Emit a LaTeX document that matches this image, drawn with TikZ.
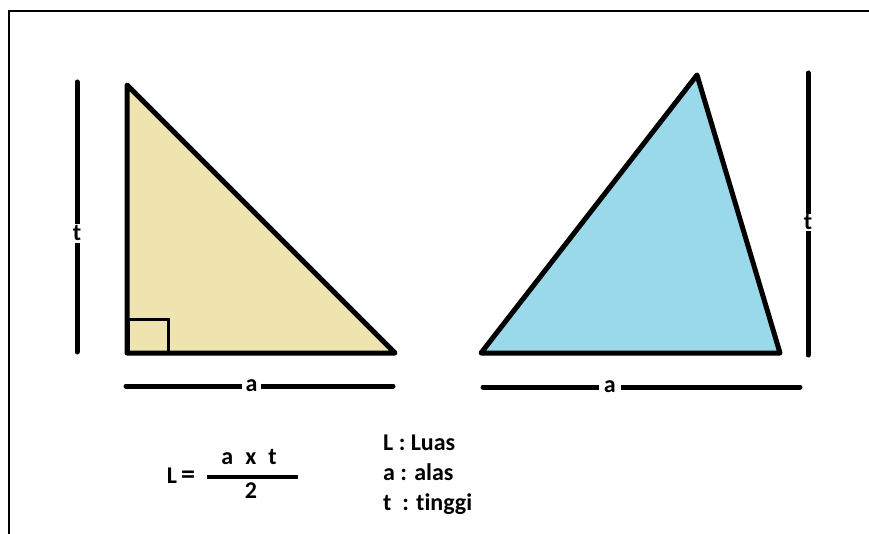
\documentclass[tikz,border=0pt]{standalone}
\usepackage{fontspec}
\setmainfont{Carlito}[Ligatures=NoCommon]
\definecolor{krem}{RGB}{239,228,176}
\definecolor{birumuda}{RGB}{153,217,234}

\begin{document}
\begin{tikzpicture}[x=1pt, y=-1pt, font=\bfseries\fontsize{24}{28}\selectfont, bingkai/.style={line width=2pt}, sisi/.style={line width=5pt, line join=round}, ukur/.style={line width=5pt, line cap=round}, lbl/.style={fill=white, inner sep=2pt}, ket/.style={anchor=base west, inner sep=0pt}]
\useasboundingbox (0,0) rectangle (869,534);
\draw[bingkai] (9,534) -- (9,11) -- (869,11);
\draw[ukur] (77,82) -- (77,352) node[lbl, pos=0.56] (tkiri) {t};
\filldraw[sisi, fill=krem] (127,85) -- (127,353) -- (395,353) -- cycle; \draw[line width=3pt] (128,353) rectangle (168,319);
\draw[ukur] (126,386) -- (393,386) node[lbl, pos=0.47, inner xsep=4pt] (akiri) {a};
\filldraw[sisi, fill=birumuda] (481,353) -- (697,75) -- (780,353) -- cycle;
\draw[ukur] (808,73) -- (808,355) node[lbl, pos=0.53, inner ysep=1pt] (tkanan) {t};
\draw[ukur] (483,387) -- (800,387) node[lbl, pos=0.40, inner xsep=5pt] (akanan) {a};
\node (rumus) at (181,476) {L\,{\fontsize{28}{28}\selectfont=}}; \node (pembilang) at (249,457) {a\enspace x\enspace t}; \draw[line width=3.5pt] (207,477) -- (298,477); \node (penyebut) at (251,491) {2};
\node[ket] (kL) at (383,450) {L : Luas}; \node[ket] (ka) at (383,480) {a : alas}; \node[ket] (kt) at (383,510) {t~~: tinggi};
\end{tikzpicture}
\end{document}
